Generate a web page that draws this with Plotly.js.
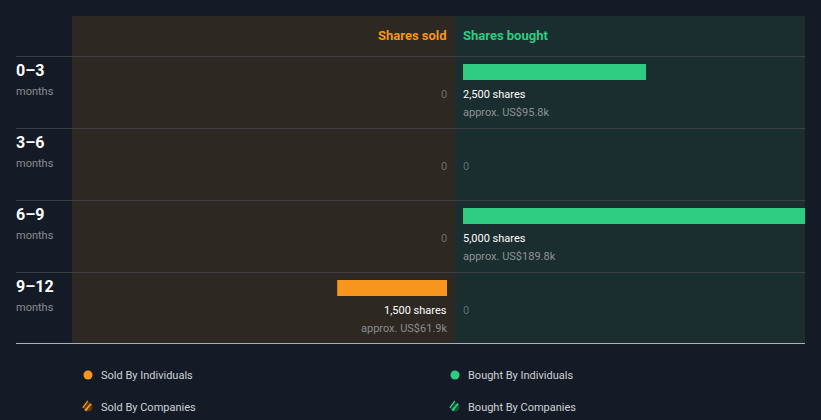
<!DOCTYPE html>
<html><head><meta charset="utf-8">
<script src="https://cdn.plot.ly/plotly-3.0.1.min.js"></script>
<style>html,body{margin:0;padding:0;background:#151b26;}</style>
</head><body><div id="chart" style="width:821px;height:420px;"></div>
<script>
const periods = ['0–3', '3–6', '6–9', '9–12'];
const periodUnit = 'months';
const soldShares = [0, 0, 0, 1500];
const boughtShares = [2500, 0, 5000, 0];
const soldValue = ['', '', '', 'US$61.9k'];
const boughtValue = ['US$95.8k', '', 'US$189.8k', ''];
const legendLabels = ['Sold By Individuals', 'Sold By Companies', 'Bought By Individuals', 'Bought By Companies'];

const W = 821, H = 420;
const px = v => v / W;
const py = v => 1 - v / H;
const ORANGE = '#f7951c', GREEN = '#2ecc80';
const BG = '#151b26', LEFTBG = '#2d2822', RIGHTBG = '#1a2d2f';
const FONT = 'Roboto, "Open Sans", sans-serif';
const fmt = n => n.toLocaleString('en-US');

const traces = [
  {type: 'bar', orientation: 'h', x: soldShares, y: periods, xaxis: 'x', yaxis: 'y',
   marker: {color: ORANGE}, width: 0.222, hoverinfo: 'skip', showlegend: false},
  {type: 'bar', orientation: 'h', x: boughtShares, y: periods, xaxis: 'x2', yaxis: 'y',
   marker: {color: GREEN}, width: 0.222, hoverinfo: 'skip', showlegend: false}
];

const hidden = {showgrid: false, zeroline: false, showticklabels: false, showline: false, ticks: '', fixedrange: true};
const shapes = [
  {type: 'rect', xref: 'paper', yref: 'paper', x0: px(72), x1: px(455), y0: py(16), y1: py(343), fillcolor: LEFTBG, line: {width: 0}, layer: 'below'},
  {type: 'rect', xref: 'paper', yref: 'paper', x0: px(455), x1: px(805), y0: py(16), y1: py(343), fillcolor: RIGHTBG, line: {width: 0}, layer: 'below'}
];
[56, 128, 200, 272].forEach(y => shapes.push({type: 'line', xref: 'paper', yref: 'paper', x0: px(16), x1: px(805), y0: py(y + 0.5), y1: py(y + 0.5), line: {color: '#3c3e42', width: 1}, layer: 'below'}));
shapes.push({type: 'line', xref: 'paper', yref: 'paper', x0: px(16), x1: px(805), y0: py(343.5), y1: py(343.5), line: {color: '#aab0b6', width: 1}, layer: 'above'});

const ann = [];
ann.push({xref: 'paper', yref: 'paper', x: px(447), y: py(35), xanchor: 'right', yanchor: 'middle', xshift: 2, text: '<b>Shares sold</b>', showarrow: false, font: {family: FONT, size: 13, color: ORANGE}});
ann.push({xref: 'paper', yref: 'paper', x: px(463), y: py(35), xanchor: 'left', yanchor: 'middle', xshift: -2, text: '<b>Shares bought</b>', showarrow: false, font: {family: FONT, size: 13, color: GREEN}});

periods.forEach((p, i) => {
  ann.push({xref: 'paper', yref: 'y', x: px(14), y: p, xanchor: 'left', yanchor: 'middle', yshift: 1, text: '<b>' + p + '</b>', showarrow: false, font: {family: FONT, size: 16, color: '#ffffff'}});
  ann.push({xref: 'paper', yref: 'y', x: px(14), y: p, xanchor: 'left', yanchor: 'middle', yshift: -20, text: periodUnit, showarrow: false, font: {family: FONT, size: 11, color: '#8a8d92'}});
  // sold side
  if (soldShares[i] > 0) {
    ann.push({xref: 'x', yref: 'y', x: 0, y: p, xanchor: 'right', yanchor: 'middle', yshift: -23, xshift: 2, text: fmt(soldShares[i]) + ' shares', showarrow: false, font: {family: FONT, size: 11, color: '#ffffff'}});
    ann.push({xref: 'x', yref: 'y', x: 0, y: p, xanchor: 'right', yanchor: 'middle', yshift: -41, xshift: 2, text: 'approx. ' + soldValue[i], showarrow: false, font: {family: FONT, size: 11, color: '#8a8d92'}});
  } else {
    ann.push({xref: 'x', yref: 'y', x: 0, y: p, xanchor: 'right', yanchor: 'middle', yshift: -23, xshift: 2, text: '0', showarrow: false, font: {family: FONT, size: 11, color: '#6b6b6b'}});
  }
  // bought side
  if (boughtShares[i] > 0) {
    ann.push({xref: 'x2', yref: 'y', x: 0, y: p, xanchor: 'left', yanchor: 'middle', yshift: -23, xshift: -2, text: fmt(boughtShares[i]) + ' shares', showarrow: false, font: {family: FONT, size: 11, color: '#ffffff'}});
    ann.push({xref: 'x2', yref: 'y', x: 0, y: p, xanchor: 'left', yanchor: 'middle', yshift: -41, xshift: -2, text: 'approx. ' + boughtValue[i], showarrow: false, font: {family: FONT, size: 11, color: '#8a9494'}});
  } else {
    ann.push({xref: 'x2', yref: 'y', x: 0, y: p, xanchor: 'left', yanchor: 'middle', yshift: -23, xshift: -2, text: '0', showarrow: false, font: {family: FONT, size: 11, color: '#5f6e6e'}});
  }
});

// legend
const legPos = [[88, 375], [88, 407], [455, 375], [455, 407]];
const legCol = [ORANGE, ORANGE, GREEN, GREEN];
legendLabels.forEach((lab, i) => {
  const [cx, cy] = legPos[i];
  const r = 4.5;
  const hatched = i % 2 === 1;
  shapes.push({type: 'circle', xref: 'paper', yref: 'paper', x0: px(cx - r), x1: px(cx + r), y0: py(cy + r), y1: py(cy - r),
    fillcolor: hatched ? (i < 2 ? '#5a3a10' : '#17503a') : legCol[i], line: {width: 0}});
  if (hatched) {
    [-2.2, 0.8].forEach(o => shapes.push({type: 'line', xref: 'paper', yref: 'paper', x0: px(cx - 3 + o), y0: py(cy + 3 + o), x1: px(cx + 3 + o - 1), y1: py(cy - 3 + o - 1), line: {color: legCol[i], width: 1.3}}));
    shapes.push({type: 'line', xref: 'paper', yref: 'paper', x0: px(cx - 3.2), y0: py(cy + 3.2), x1: px(cx + 3.2), y1: py(cy - 3.2), line: {color: legCol[i], width: 1.3}});
  }
  ann.push({xref: 'paper', yref: 'paper', x: px(cx + 11), y: py(cy), xanchor: 'left', yanchor: 'middle', text: lab, showarrow: false, font: {family: FONT, size: 11, color: '#cfd2d6'}});
});

const layout = {
  width: W, height: H,
  margin: {l: 0, r: 0, t: 0, b: 0},
  paper_bgcolor: BG, plot_bgcolor: 'rgba(0,0,0,0)',
  showlegend: false,
  xaxis: Object.assign({}, hidden, {domain: [px(72), px(447)], range: [5123, 0]}),
  xaxis2: Object.assign({}, hidden, {domain: [px(463), px(805)], range: [0, 4672], anchor: 'y'}),
  yaxis: Object.assign({}, hidden, {type: 'category', domain: [py(344), py(56)], range: [3.778, -0.222], anchor: 'x'}),
  shapes: shapes,
  annotations: ann,
  font: {family: FONT}
};
Plotly.newPlot('chart', traces, layout, {displayModeBar: false, staticPlot: true});
</script></body></html>
